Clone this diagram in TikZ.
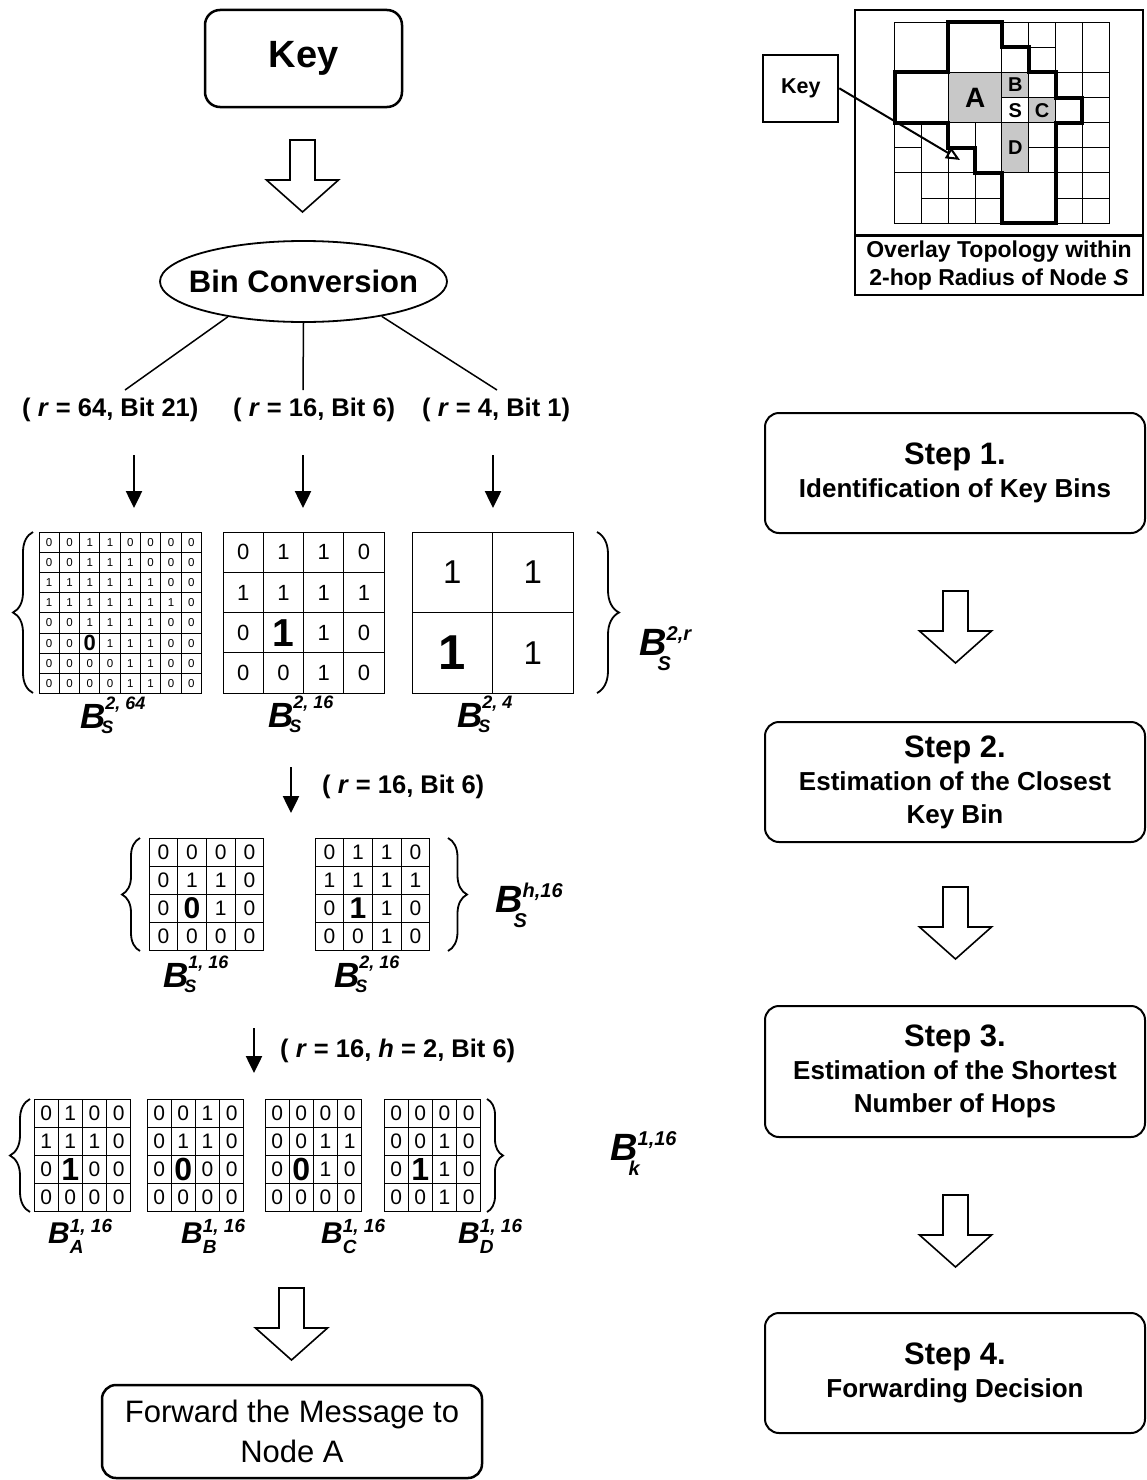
\documentclass[tikz,border=0pt]{standalone}
\usepackage{fontspec}
\setmainfont{Liberation Sans}
\usetikzlibrary{arrows.meta,shapes.geometric,decorations.pathreplacing}
\definecolor{cellgray}{RGB}{200,200,200}

\newcommand{\hl}[1]{{\fontsize{\hlsize}{\hlsize}\selectfont\bfseries #1}}
\def\hlsize{17}

% #1 name, #2 x0, #3 y0, #4 cell w, #5 cell h, #6 font size, #7 rows
\newcommand{\bingrid}[7]{%
 \foreach \rw [count=\ri from 0] in {#7} {%
  \foreach \cv [count=\ci from 0] in \rw {%
   \node[cellbox, minimum width=#4pt, minimum height=#5pt, font=\fontsize{#6}{#6}\selectfont]
     (#1-\ri-\ci) at ({#2+(\ci+0.5)*#4},{#3+(\ri+0.5)*#5}) {\cv};
  }}}

% #1 B size, #2 script size, #3 sup raise, #4 sub drop, #5 sub kern, #6 sup, #7 sub
\newcommand{\Blab}[7]{{\fontsize{#1}{#1}\selectfont\bfseries\itshape B\rlap{\fontsize{#2}{#2}\selectfont\raisebox{#3}{#6}}\kern-#5\raisebox{-#4}{\fontsize{#2}{#2}\selectfont #7}}}
\newcommand{\Btop}[2]{\Blab{35}{18}{19pt}{5pt}{4pt}{#1}{#2}}
\newcommand{\Bright}[2]{\Blab{38}{20}{15pt}{15pt}{9pt}{#1}{#2}}
\newcommand{\Bbot}[2]{\Blab{30}{19}{11pt}{10pt}{0pt}{#1}{#2}}

\newcommand{\hollowarrow}[2]{%
 \draw[line width=1.6pt, line join=miter, fill=white]
  ({#1-12.5},#2) -- ({#1+12.5},#2) -- ({#1+12.5},{#2+40}) -- ({#1+36},{#2+40})
  -- (#1,{#2+72}) -- ({#1-36},{#2+40}) -- ({#1-12.5},{#2+40}) -- cycle;}

\tikzset{
 cellbox/.style={draw, line width=0.9pt, inner sep=0pt},
 smallarr/.style={line width=2.5pt, -{Triangle[length=17pt,width=16pt]}},
 bracestyle/.style={decorate, line width=1.8pt},
 thinln/.style={line width=0.9pt},
 boldln/.style={line width=4pt, line join=miter},
 stepbox/.style={draw, rounded corners=14pt, line width=2pt, minimum width=380pt,
   align=center, inner sep=0pt, font=\fontsize{26}{33}\selectfont\bfseries},
 lbl/.style={anchor=base west, inner sep=0pt},
 paren/.style={anchor=base west, inner sep=0pt, font=\fontsize{25.5}{25.5}\selectfont\bfseries},
}

\begin{document}
\begin{tikzpicture}[x=1pt,y=-1pt, every node/.style={inner sep=0pt}]
\useasboundingbox (0,0) rectangle (1147,1480);

% ---------------- left column ----------------
\node[draw, rounded corners=15pt, line width=2.5pt, minimum width=197pt, minimum height=97pt,
      font=\fontsize{38}{38}\selectfont\bfseries] (key) at (303.5,58.5) {Key};
\hollowarrow{302.5}{140}
\node[ellipse, draw, line width=1.8pt, minimum width=287pt, minimum height=81pt, inner sep=0pt]
  (bin) at (303.5,281.5) {\makebox[0pt]{\fontsize{31}{31}\selectfont\bfseries Bin Conversion}};

\coordinate (b1) at (125,390);
\coordinate (b2) at (303,390);
\coordinate (b3) at (497,390);
\draw[line width=1.5pt] (bin.205) -- (b1);
\draw[line width=1.5pt] (bin.south) -- (b2);
\draw[line width=1.5pt] (bin.336) -- (b3);

\node[paren] (p1) at (22,416) {( \textit{r} = 64, Bit 21)};
\node[paren] (p2) at (233,416) {( \textit{r} = 16, Bit 6)};
\node[paren] (p3) at (422,416) {( \textit{r} = 4, Bit 1)};

\coordinate (a1s) at (134,455); \coordinate (a1e) at (134,508);
\coordinate (a2s) at (303,455); \coordinate (a2e) at (303,508);
\coordinate (a3s) at (493,455); \coordinate (a3e) at (493,508);
\draw[smallarr] (a1s) -- (a1e);
\draw[smallarr] (a2s) -- (a2e);
\draw[smallarr] (a3s) -- (a3e);

% top row grids
\def\hlsize{22}
\bingrid{ga}{39}{532}{20.3}{20.2}{11.5}{{0,0,1,1,0,0,0,0},{0,0,1,1,1,0,0,0},{1,1,1,1,1,1,0,0},{1,1,1,1,1,1,1,0},{0,0,1,1,1,1,0,0},{0,0,\hl{0},1,1,1,0,0},{0,0,0,0,1,1,0,0},{0,0,0,0,1,1,0,0}}
\def\hlsize{39}
\bingrid{gb}{223}{532}{40.3}{40.3}{22}{{0,1,1,0},{1,1,1,1},{0,\hl{1},1,0},{0,0,1,0}}
\def\hlsize{49}
\bingrid{gc}{412}{532}{80.5}{80.5}{33}{{1,1},{\hl{1},1}}

\draw[bracestyle, decoration={brace, amplitude=20pt, aspect=0.5}] (33,693) -- (33,532);
\draw[bracestyle, decoration={brace, amplitude=22pt, aspect=0.5}] (597,532) -- (597,693);

\node[lbl] (l64) at (80,728) {\Btop{2, 64}{S}};
\node[lbl] (l16) at (268,727) {\Btop{2, 16}{S}};
\node[lbl] (l4) at (457,727) {\Btop{2, 4}{S}};
\node[lbl] (lr) at (639,655) {\Bright{2,r}{S}};

% middle
\coordinate (m1s) at (291,767); \coordinate (m1e) at (291,813);
\draw[smallarr] (m1s) -- (m1e);
\node[paren] (pm) at (322,793) {( \textit{r} = 16, Bit 6)};

\def\hlsize{30}
\bingrid{gm}{149}{838}{28.7}{28.1}{21}{{0,0,0,0},{0,1,1,0},{0,\hl{0},1,0},{0,0,0,0}}
\bingrid{gn}{315}{838}{28.7}{28.1}{21}{{0,1,1,0},{1,1,1,1},{0,\hl{1},1,0},{0,0,1,0}}
\draw[bracestyle, decoration={brace, amplitude=18pt, aspect=0.5}] (140,951) -- (140,838);
\draw[bracestyle, decoration={brace, amplitude=19pt, aspect=0.5}] (448,838) -- (448,951);
\node[lbl] (lm1) at (163,987) {\Btop{1, 16}{S}};
\node[lbl] (lm2) at (334,987) {\Btop{2, 16}{S}};
\node[lbl] (lh) at (495,912) {\Bright{h,16}{S}};

% bottom
\coordinate (n1s) at (254,1028); \coordinate (n1e) at (254,1073);
\draw[smallarr] (n1s) -- (n1e);
\node[paren] (pn) at (280,1057) {( \textit{r} = 16, \textit{h} = 2, Bit 6)};

\def\hlsize{32}
\bingrid{gA}{34}{1099}{24.2}{28.2}{21}{{0,1,0,0},{1,1,1,0},{0,\hl{1},0,0},{0,0,0,0}}
\bingrid{gB}{147}{1099}{24.2}{28.2}{21}{{0,0,1,0},{0,1,1,0},{0,\hl{0},0,0},{0,0,0,0}}
\bingrid{gC}{265}{1099}{24.2}{28.2}{21}{{0,0,0,0},{0,0,1,1},{0,\hl{0},1,0},{0,0,0,0}}
\bingrid{gD}{384}{1099}{24.2}{28.2}{21}{{0,0,0,0},{0,0,1,0},{0,\hl{1},1,0},{0,0,1,0}}
\draw[bracestyle, decoration={brace, amplitude=20pt, aspect=0.5}] (30,1212) -- (30,1099);
\draw[bracestyle, decoration={brace, amplitude=16pt, aspect=0.5}] (487,1099) -- (487,1212);
\node[lbl] (lA) at (48,1243) {\Bbot{1, 16}{A}};
\node[lbl] (lB) at (181,1243) {\Bbot{1, 16}{B}};
\node[lbl] (lC) at (321,1243) {\Bbot{1, 16}{C}};
\node[lbl] (lD) at (458,1243) {\Bbot{1, 16}{D}};
\node[lbl] (lk) at (610,1160) {\Bright{1,16}{k}};

\hollowarrow{291.5}{1288}
\node[draw, rounded corners=14pt, line width=2.5pt, minimum width=380pt, minimum height=93pt,
      align=center, font=\fontsize{31}{40}\selectfont] (fwd) at (292,1431.5)
      {Forward the Message to\\Node A};

% ---------------- right column ----------------
\node[stepbox, minimum height=120pt] (s1) at (955,473)
  {{\fontsize{31}{31}\selectfont Step 1.}\\Identification of Key Bins};
\hollowarrow{955.5}{591}
\node[stepbox, minimum height=120pt] (s2) at (955,782)
  {{\fontsize{31}{31}\selectfont Step 2.}\\Estimation of the Closest\\Key Bin};
\hollowarrow{955.5}{887}
\node[stepbox, minimum height=131pt] (s3) at (955,1071.5)
  {{\fontsize{31}{31}\selectfont Step 3.}\\Estimation of the Shortest\\Number of Hops};
\hollowarrow{955.5}{1195}
\node[stepbox, minimum height=120pt] (s4) at (955,1373)
  {{\fontsize{31}{31}\selectfont Step 4.}\\Forwarding Decision};

% ---------------- overlay topology ----------------
\draw[line width=2.5pt] (855,10) rectangle (1143,295);
\draw[line width=2.5pt] (855,235.5) -- (1143,235.5);
\node[align=center, font=\fontsize{23}{28}\selectfont\bfseries] (cap) at (999,266)
  {Overlay Topology within\\2-hop Radius of Node \textit{S}};

\begin{scope}[shift={(894.7,22.3)}, x=26.8pt, y=-25.1pt]
 \fill[cellgray] (2,2) rectangle (4,4);
 \fill[cellgray] (4,2) rectangle (5,3);
 \fill[cellgray] (5,3) rectangle (6,4);
 \fill[cellgray] (4,4) rectangle (5,6);
 \foreach \a/\b/\w/\h in {0/0/2/2, 2/0/2/2, 4/0/1/1, 5/0/1/1, 6/0/1/2, 7/0/1/2, 4/1/1/1, 5/1/1/1,
   0/2/2/2, 2/2/2/2, 4/2/1/1, 5/2/1/1, 6/2/1/1, 7/2/1/1, 4/3/1/1, 5/3/1/1, 6/3/1/1, 7/3/1/1,
   0/4/1/1, 1/4/1/2, 0/5/1/1, 2/4/1/1, 2/5/1/1, 3/4/1/2,
   0/6/1/2, 1/6/1/1, 1/7/1/1, 2/6/1/1, 2/7/1/1, 3/6/1/1, 3/7/1/1,
   4/4/1/2, 5/4/1/1, 5/5/1/1, 6/4/1/1, 7/4/1/1, 6/5/1/1, 7/5/1/1,
   4/6/2/2, 6/6/1/1, 7/6/1/1, 6/7/1/1, 7/7/1/1}
   { \draw[thinln] (\a,\b) rectangle ++(\w,\h); }
 \draw[boldln] (2,0) -- (4,0) -- (4,1) -- (5,1) -- (5,2) -- (6,2) -- (6,3) -- (7,3) -- (7,4)
   -- (6,4) -- (6,8) -- (4,8) -- (4,6) -- (3,6) -- (3,5) -- (2,5) -- (2,4) -- (0,4) -- (0,2)
   -- (2,2) -- cycle;
 \node[font=\fontsize{28}{28}\selectfont\bfseries] (tA) at (3,3) {A};
 \node[font=\fontsize{20}{20}\selectfont\bfseries] (tB) at (4.5,2.5) {B};
 \node[font=\fontsize{20}{20}\selectfont\bfseries] (tS) at (4.5,3.5) {S};
 \node[font=\fontsize{20}{20}\selectfont\bfseries] (tC) at (5.5,3.5) {C};
 \node[font=\fontsize{20}{20}\selectfont\bfseries] (tD) at (4.5,5) {D};
\end{scope}

\node[draw, line width=2pt, minimum width=75pt, minimum height=67pt,
      font=\fontsize{21.5}{21.5}\selectfont\bfseries] (tkey) at (800.8,88.3) {Key};
\coordinate (keytip) at (960,160);
\draw[line width=2pt, -{Triangle[open, length=14pt, width=12pt]}] (tkey.east) -- (keytip);

\end{tikzpicture}
\end{document}
